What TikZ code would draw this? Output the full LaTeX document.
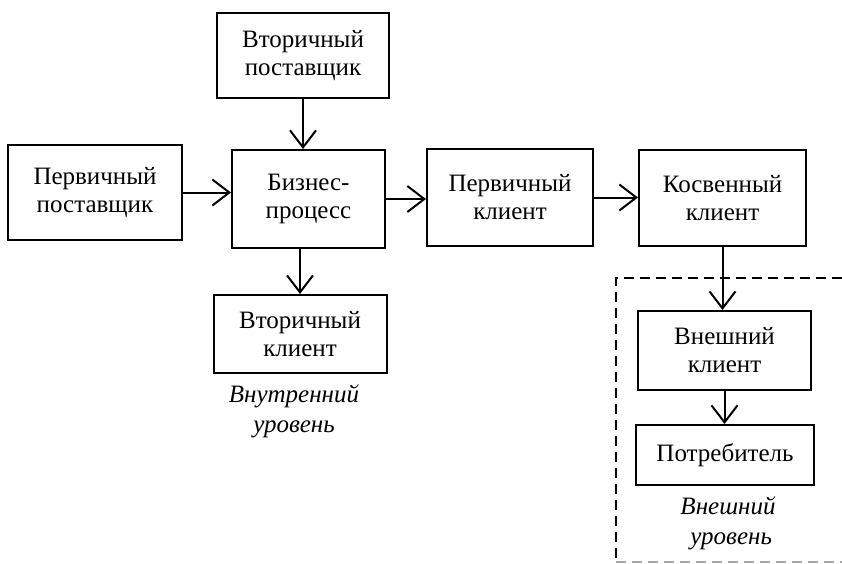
\documentclass[tikz,border=0pt]{standalone}
\usepackage{fontspec}
\setmainfont{Liberation Serif}
\usetikzlibrary{arrows.meta,positioning}

\begin{document}
\begin{tikzpicture}[x=1pt,y=-1pt,
    box/.style={draw, line width=2pt, align=center, inner sep=0pt,
        font=\fontsize{25}{28}\selectfont},
    lvl/.style={align=center, inner sep=0pt, font=\fontsize{25}{30}\selectfont\itshape},
    flow/.style={line width=2pt, -{Straight Barb[length=17pt,width=26pt,line width=2pt]}},
    ]
    \useasboundingbox (0,0) rectangle (842,563);
    %% Internal level
    \node[box, minimum width=172pt, minimum height=85pt] (vpost) at (303,55.5) {Вторичный\\поставщик};
    \node[box, minimum width=174pt, minimum height=95pt] (ppost) at (95,192.5) {Первичный\\поставщик};
    \node[box, minimum width=153pt, minimum height=98pt] (biz) at (308.5,199) {Бизнес-\\процесс};
    \node[box, minimum width=173pt, minimum height=78pt] (vkl) at (300,334) {Вторичный\\клиент};
    \node[lvl] (inner) at (294,411) {Внутренний\\уровень};
    %% Clients
    \node[box, minimum width=166pt, minimum height=97pt] (pkl) at (510,197.5) {Первичный\\клиент};
    \node[box, minimum width=167pt, minimum height=96pt] (kkl) at (722.5,198) {Косвенный\\клиент};
    %% External level
    \node[box, minimum width=173pt, minimum height=79pt] (vnkl) at (724.5,350.5) {Внешний\\клиент};
    \node[box, minimum width=178pt, minimum height=60pt] (potr) at (725,455) {Потребитель};
    \node[lvl] (outer) at (728,523) {Внешний\\\ уровень};
    \draw[line width=2pt, dash pattern=on 10pt off 6pt] (842,278) -- (616,278) -- (616,563);
    \draw[gray!70, line width=1.2pt, dash pattern=on 10pt off 6pt] (616,562) -- (842,562);
    %% Flows
    \draw[flow] (vpost.south) -- (vpost.south |- biz.north);
    \draw[flow] (ppost.east) -- (ppost.east -| biz.west);
    \draw[flow] (biz.east) -- (biz.east -| pkl.west);
    \draw[flow] (pkl.east) -- (pkl.east -| kkl.west);
    \draw[flow] (biz.south -| vkl.north) -- (vkl.north);
    \draw[flow] (kkl.south) -- (kkl.south |- vnkl.north);
    \draw[flow] (vnkl.south) -- (vnkl.south |- potr.north);
\end{tikzpicture}
\end{document}
